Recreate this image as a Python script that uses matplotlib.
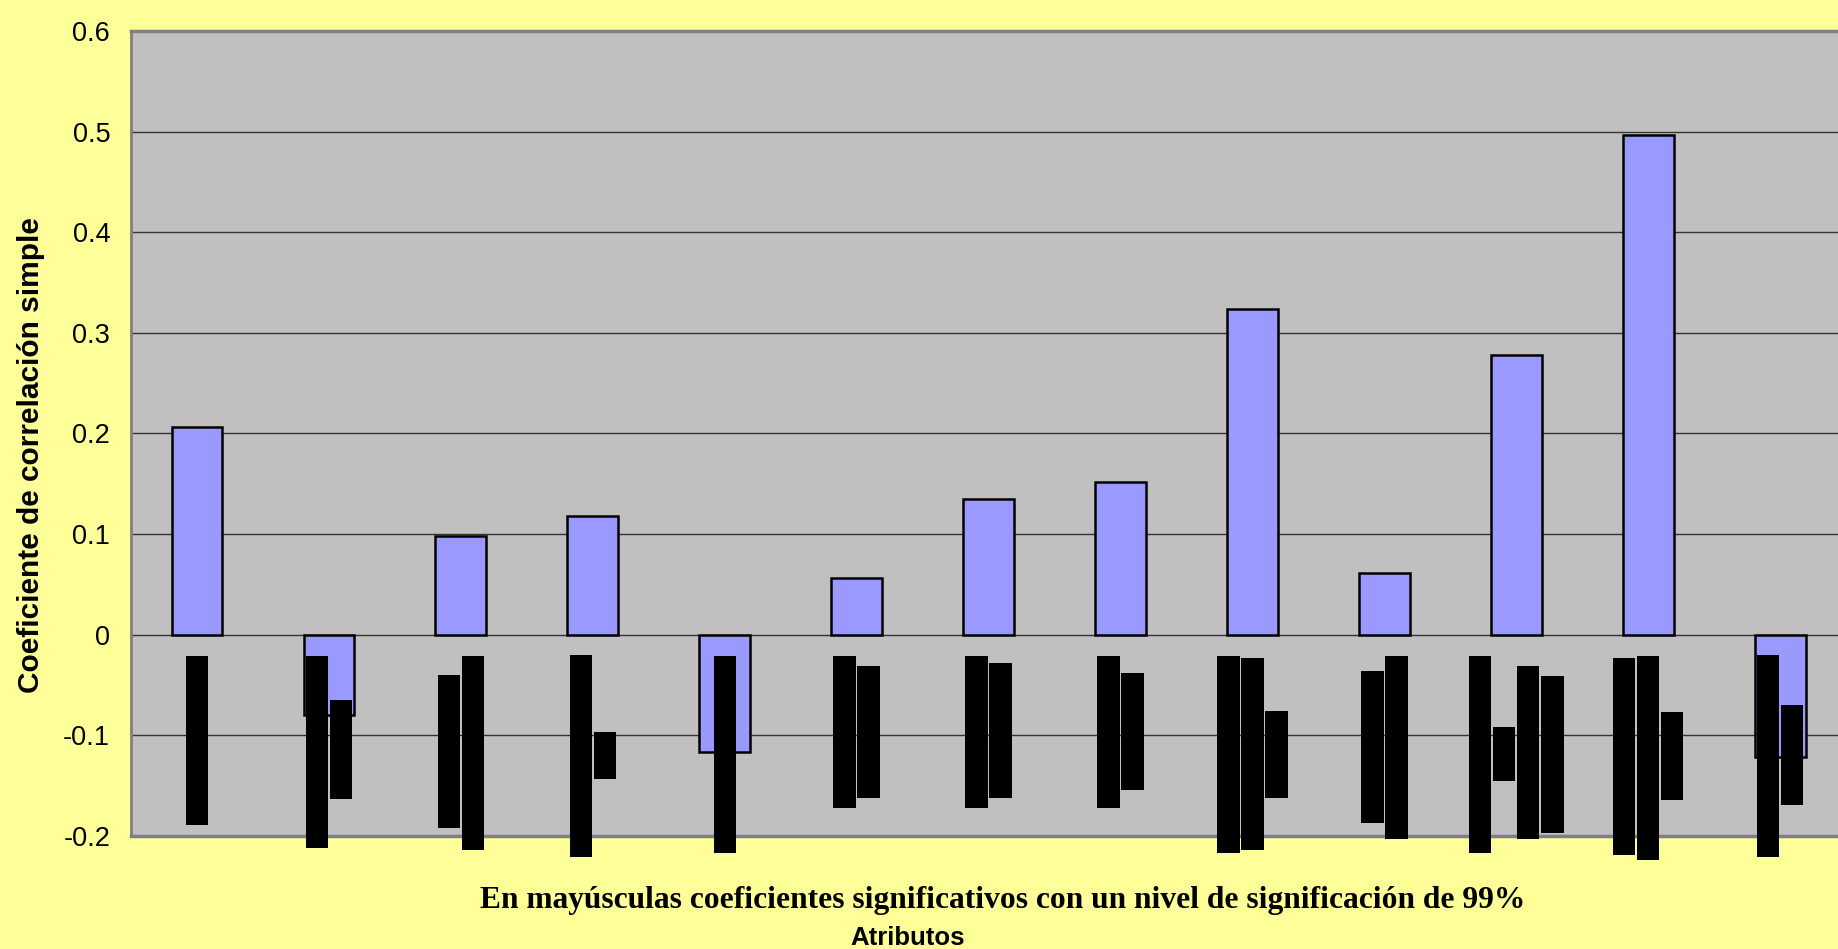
import matplotlib
matplotlib.use("Agg")
import matplotlib.pyplot as plt
import numpy as np

# coeficientes de correlación simple por atributo
coef = [0.206, -0.080, 0.098, 0.118, -0.117, 0.056, 0.135, 0.152,
        0.324, 0.061, 0.278, 0.497, -0.122]

# etiquetas verticales de cada atributo (se ven como bloques negros)
label_tops = [
    [-0.021],
    [-0.021, -0.065],
    [-0.040, -0.021],
    [-0.020, -0.097],
    [-0.021],
    [-0.021, -0.031],
    [-0.021, -0.028],
    [-0.021, -0.038],
    [-0.021, -0.023, -0.076],
    [-0.036, -0.021],
    [-0.021, -0.092, -0.031, -0.041],
    [-0.023, -0.021, -0.077],
    [-0.020, -0.070],
]
label_bottoms = [
    [-0.189],
    [-0.212, -0.163],
    [-0.192, -0.214],
    [-0.221, -0.143],
    [-0.217],
    [-0.172, -0.162],
    [-0.172, -0.162],
    [-0.172, -0.154],
    [-0.217, -0.214, -0.162],
    [-0.187, -0.203],
    [-0.217, -0.145, -0.203, -0.197],
    [-0.219, -0.224, -0.164],
    [-0.221, -0.169],
]

yticks = [-0.2, -0.1, 0, 0.1, 0.2, 0.3, 0.4, 0.5, 0.6]
ytick_labels = ["-0.2", "-0.1", "0", "0.1", "0.2", "0.3", "0.4", "0.5", "0.6"]

fig = plt.figure(figsize=(18.38, 9.49), dpi=100, facecolor="#FFFF99")
ax = fig.add_axes([0.0713, 0.1191, 0.9331, 0.8483])
ax.set_facecolor("#C0C0C0")

x = np.arange(len(coef))
ax.bar(x, coef, width=0.385, color="#9999FF", edgecolor="black",
       linewidth=1.8, zorder=2)

# bloques negros
step = 0.182
for i in range(len(coef)):
    n = len(label_tops[i])
    for k in range(n):
        xo = i + (k - (n - 1) / 2) * step
        top = label_tops[i][k]
        bot = label_bottoms[i][k]
        ax.bar(xo, bot - top, bottom=top, width=0.17, color="black",
               linewidth=0, zorder=3, clip_on=False)

ax.set_xlim(-0.5, len(coef) - 0.5)
ax.set_ylim(-0.2, 0.6)
ax.set_yticks(yticks)
ax.set_yticklabels(ytick_labels, fontsize=19.5, family="Liberation Sans")
ax.set_xticks([])
ax.tick_params(axis="y", length=0, pad=15)
ax.yaxis.grid(True, color="#333333", linewidth=1.0, zorder=1)
ax.set_axisbelow(True)

for s in ["left", "top", "bottom"]:
    ax.spines[s].set_color("#808080")
ax.spines["left"].set_linewidth(2)
ax.spines["top"].set_linewidth(2.5)
ax.spines["bottom"].set_linewidth(2.5)
ax.spines["right"].set_visible(False)

fig.text(0.017, 0.521, "Coeficiente de correlación simple", rotation=90,
         ha="center", va="center", fontsize=21.5, fontweight="bold",
         family="Liberation Sans")
fig.text(0.5457, 0.0432,
         "En mayúsculas coeficientes significativos con un nivel de significación de 99%",
         ha="center", va="baseline", fontsize=22.7, fontweight="bold",
         family="Liberation Serif")
fig.text(0.494, 0.004, "Atributos", ha="center", va="baseline",
         fontsize=18.5, fontweight="bold", family="Liberation Sans")

fig.savefig("out.png", dpi=100, facecolor=fig.get_facecolor())
